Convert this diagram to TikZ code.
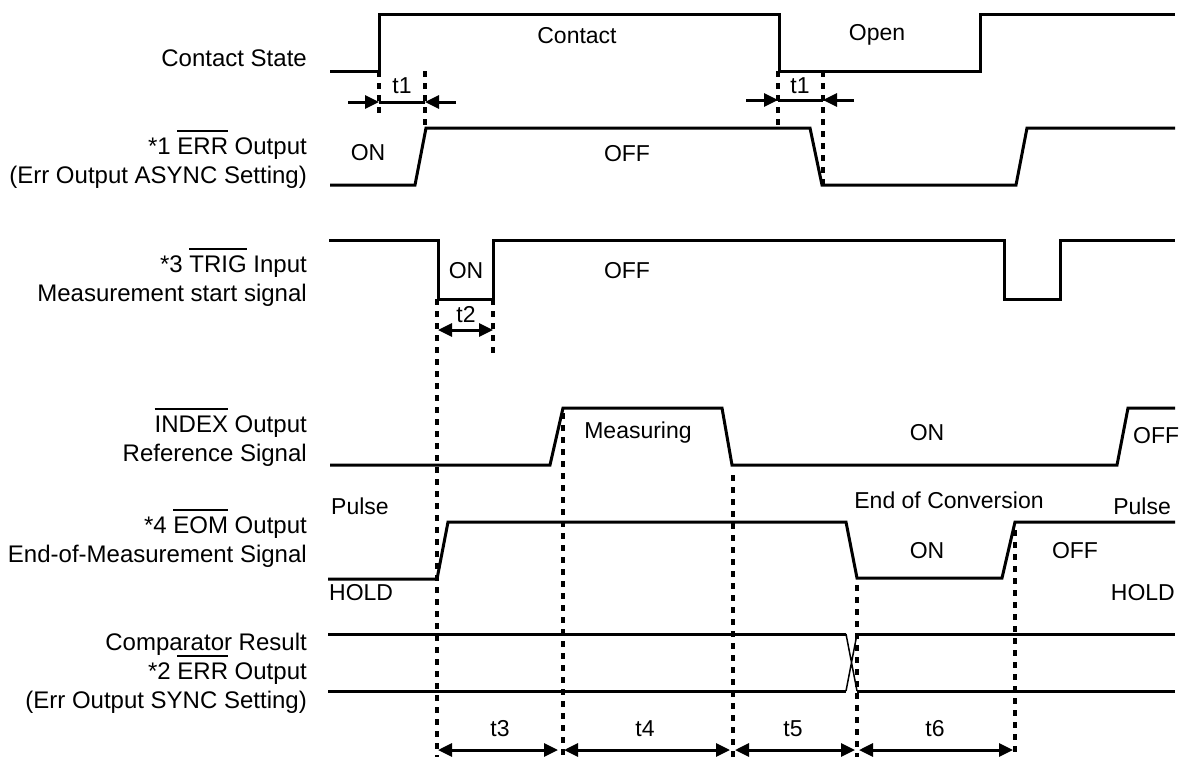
\documentclass[tikz,border=0pt]{standalone}
\usepackage{fontspec}
\setmainfont{Liberation Sans}
\usetikzlibrary{arrows.meta}
\newlength{\barw}
\newcommand{\barred}[1]{\settowidth{\barw}{#1}\rlap{\smash{\rule[0.92em]{\barw}{2pt}}}#1}

\begin{document}
\begin{tikzpicture}[x=1pt,y=-1pt,
  sig/.style={line width=3pt,line join=miter},
  guide/.style={line width=3.2pt,dash pattern=on 6pt off 6pt},
  dimline/.style={line width=3pt},
  dimarr/.style={dimline,-{Triangle[length=14pt,width=13pt]}},
  dimboth/.style={dimline,{Triangle[length=14pt,width=13pt]}-{Triangle[length=14pt,width=13pt]}},
  lbl/.style={anchor=east,align=right,inner sep=0pt,font=\fontsize{24}{29}\selectfont},
  tag/.style={inner sep=0pt,text height=16.5pt,text depth=0pt,font=\fontsize{23}{28}\selectfont}]
  \useasboundingbox (0,0) rectangle (1180,764);

  % Signal names
  \node[lbl] (lContact) at (307,58) {Contact State};
  \node[lbl] (lErrA) at (307,163) {*1 \barred{ERR} Output\\(Err Output ASYNC Setting)};
  \node[lbl] (lTrig) at (307,281) {*3 \barred{TRIG} Input\\Measurement start signal};
  \node[lbl] (lIndex) at (307,441) {\barred{INDEX} Output\\Reference Signal};
  \node[lbl] (lEom) at (307,542) {*4 \barred{EOM} Output\\End-of-Measurement Signal};
  \node[lbl] (lComp) at (307,673) {Comparator Result\\*2 \barred{ERR} Output\\(Err Output SYNC Setting)};

  % Waveforms
  \draw[sig] (330,71)--(379,71)--(379,14)--(779,14)--(779,71)--(980,71)--(980,14)--(1175,14);
  \draw[sig] (330,185)--(415,185)--(426,128)--(810,128)--(822,185)--(1016,185)--(1027,128)--(1175,128);
  \draw[sig] (329,240)--(438,240)--(438,299)--(493,299)--(493,240)--(1004,240)--(1004,299)%
    --(1060,299)--(1060,240)--(1175,240);
  \draw[sig] (330,465)--(550,465)--(563,408)--(722,408)--(732,465)--(1117,465)--(1128,408)--(1175,408);
  \draw[sig] (328,579)--(437,579)--(448,522)--(846,522)--(857,578)--(1002,578)--(1015,522)--(1175,522);
  \draw[sig] (328,634)--(846,634) (857,634)--(1175,634);
  \draw[sig] (328,691)--(846,691) (857,691)--(1175,691);
  \draw[line width=1.5pt] (846,634)--(857,691) (846,691)--(857,634);

  % Timing guides
  \draw[guide] (379,71)--(379,117);
  \draw[guide] (425,71)--(425,128);
  \draw[guide] (778,71)--(778,128);
  \draw[guide] (823,71)--(823,185);
  \draw[guide] (437,299)--(437,757);
  \draw[guide] (493,299)--(493,357);
  \draw[guide] (563,413)--(563,757);
  \draw[guide] (733,475)--(733,757);
  \draw[guide] (857,585)--(857,757);
  \draw[guide] (1015,530)--(1015,757);

  % Intervals
  \draw[dimarr] (348,102)--(379,102);
  \draw[dimline] (379,102)--(425,102);
  \draw[dimarr] (456,102)--(425,102);
  \draw[dimarr] (746,100)--(778,100);
  \draw[dimline] (778,100)--(823,100);
  \draw[dimarr] (854,100)--(823,100);
  \draw[dimboth] (438,330)--(493,330);
  \draw[dimboth] (438,750)--(558,750);
  \draw[dimboth] (564,750)--(730,750);
  \draw[dimboth] (735,750)--(855,750);
  \draw[dimboth] (859,750)--(1013,750);

  \node[tag] (t1a) at (402,85) {t1};
  \node[tag] (t1b) at (800,85) {t1};
  \node[tag] (t2) at (466,314) {t2};
  \node[tag] (t3) at (500,728) {t3};
  \node[tag] (t4) at (645,728) {t4};
  \node[tag] (t5) at (793,728) {t5};
  \node[tag] (t6) at (935,728) {t6};

  % State texts
  \node[tag] (sContact) at (577,35) {Contact};
  \node[tag] (sOpen) at (877,32) {Open};
  \node[tag] (sErrOn) at (368,152) {ON};
  \node[tag] (sErrOff) at (627,153) {OFF};
  \node[tag] (sTrigOn) at (466,270) {ON};
  \node[tag] (sTrigOff) at (627,270) {OFF};
  \node[tag] (sMeas) at (638,430) {Measuring};
  \node[tag] (sIdxOn) at (927,432) {ON};
  \node[tag,anchor=west] (sIdxOff) at (1133,435) {OFF};
  \node[tag] (sEoc) at (949,500) {End of Conversion};
  \node[tag,anchor=west] (sPulseL) at (331,506) {Pulse};
  \node[tag,anchor=west] (sHoldL) at (329,592) {HOLD};
  \node[tag,anchor=east] (sPulseR) at (1171,506) {Pulse};
  \node[tag,anchor=east] (sHoldR) at (1175,592) {HOLD};
  \node[tag] (sEomOn) at (927,550) {ON};
  \node[tag] (sEomOff) at (1075,550) {OFF};
\end{tikzpicture}
\end{document}
